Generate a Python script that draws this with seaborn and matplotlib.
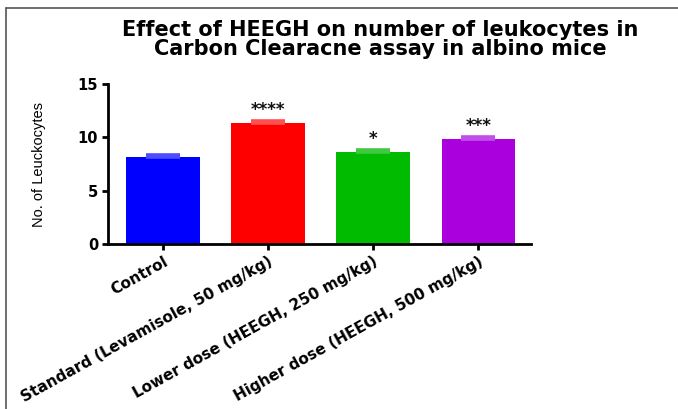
import matplotlib
matplotlib.use("Agg")
import matplotlib.pyplot as plt
import seaborn as sns
import pandas as pd

categories = ["Control", "Standard (Levamisole, 50 mg/kg)",
              "Lower dose (HEEGH, 250 mg/kg)", "Higher dose (HEEGH, 500 mg/kg)"]
means = [8.15, 11.3, 8.6, 9.85]
sems = [0.2, 0.22, 0.2, 0.22]
stars = ["", "****", "*", "***"]
colors = ["#0000ff", "#ff0000", "#00bb00", "#aa00dd"]
err_colors = ["#4d4dff", "#ff5050", "#40c840", "#c050ea"]
y_ticks = [0, 5, 10, 15]

sns.set_theme(style="ticks")
plt.rcParams['font.family'] = ['DejaVu Sans']
plt.rcParams['text.color'] = 'black'
plt.rcParams['xtick.color'] = 'black'
plt.rcParams['ytick.color'] = 'black'
plt.rcParams['axes.labelcolor'] = 'black'

fig = plt.figure(figsize=(6.78, 4.09), dpi=100)
ax = fig.add_axes([0.159, 0.403, 0.624, 0.392])

df = pd.DataFrame({"group": categories, "value": means})
sns.barplot(data=df, x="group", y="value", hue="group", palette=colors,
            width=0.70, legend=False, ax=ax, saturation=1, linewidth=0)

for i, (m, s, c) in enumerate(zip(means, sems, err_colors)):
    ax.errorbar(i, m, yerr=[[0], [s]], color=c, capsize=12.2, capthick=2.6,
                elinewidth=1.5, fmt="none")
    if stars[i]:
        ax.text(i, m + s + 1.0, stars[i], ha="center", va="center",
                fontsize=12, fontweight="bold", color="#111111")

ax.set_ylim(0, 15)
ax.set_xlim(-0.524, 3.5)
ax.set_yticks(y_ticks)
ax.set_yticklabels([str(t) for t in y_ticks], fontsize=10.5, fontweight="bold")
ax.set_xticks(range(len(categories)))
ax.set_xticklabels(categories, rotation=29, ha="right", rotation_mode="anchor",
                   fontsize=11, fontweight="bold")
ax.set_xlabel("")
ax.set_ylabel("No. of Leuckocytes", fontsize=10.5, family=["Liberation Sans"])
ax.yaxis.set_label_coords(-0.147, 0.5)
for sp in ["top", "right"]:
    ax.spines[sp].set_visible(False)
for sp in ["left", "bottom"]:
    ax.spines[sp].set_linewidth(2)
    ax.spines[sp].set_color("black")
ax.tick_params(axis="both", length=4, width=2, color="black", pad=3)

fig.text(0.561, 0.903, "Effect of HEEGH on number of leukocytes in\nCarbon Clearacne assay in albino mice",
         ha="center", va="center", fontsize=15, fontweight="bold", linespacing=0.95,
         color="black")

# outer frame
fig.add_artist(plt.Line2D([6/678, 1], [1 - 8/409, 1 - 8/409], color="#555555", lw=1.2,
                          transform=fig.transFigure))
fig.add_artist(plt.Line2D([6/678, 6/678], [0, 1 - 8/409], color="#555555", lw=1.2,
                          transform=fig.transFigure))

fig.savefig("out.png", dpi=100)
